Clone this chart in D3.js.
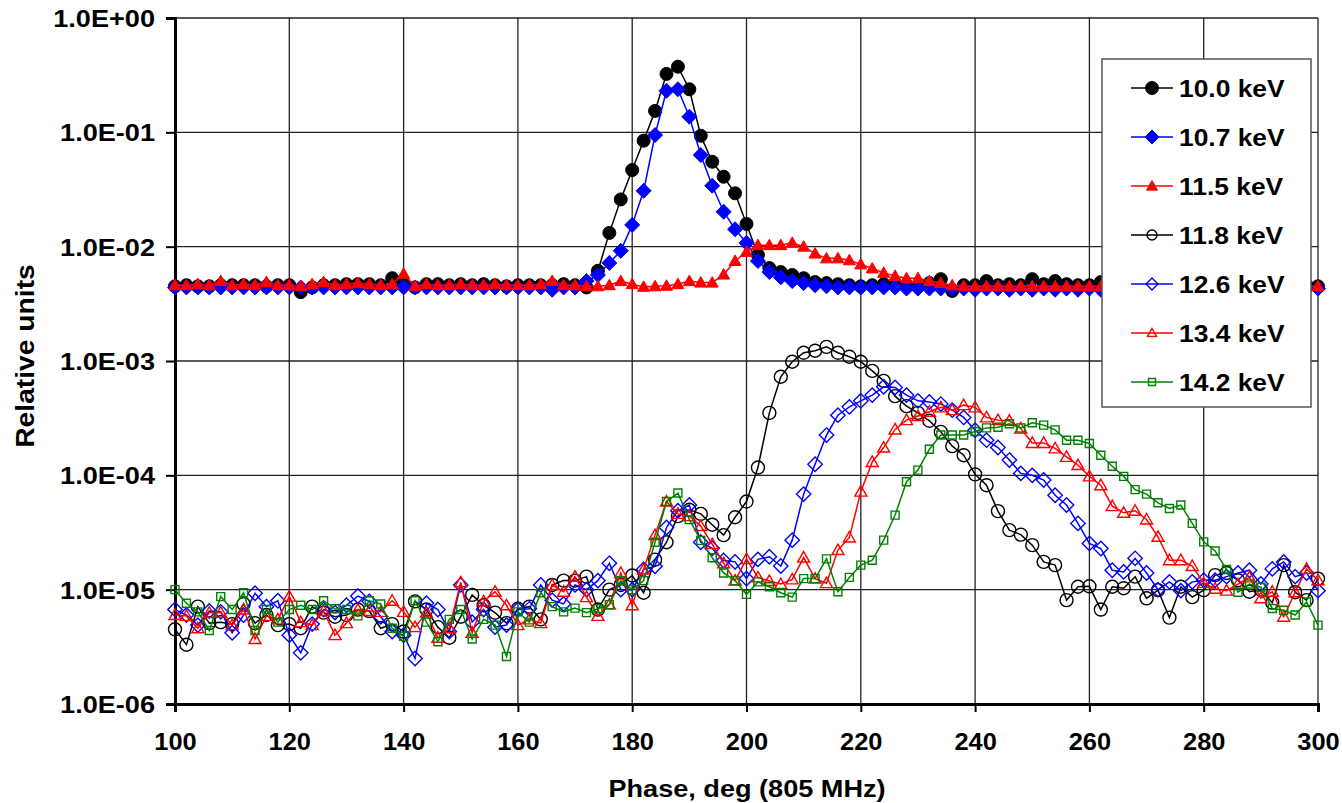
<!DOCTYPE html>
<html>
<head>
<meta charset="utf-8">
<script src="https://cdn.jsdelivr.net/npm/d3@7/dist/d3.min.js"></script>
<style>
  html, body { margin: 0; padding: 0; background: #fff; }
  svg text { font-family: "Liberation Sans", Arial, sans-serif; font-weight: bold; fill: #000; }
</style>
</head>
<body>
<svg id="chart" width="1342" height="803"></svg>
<script>
// Phase axis: one sample every 2 degrees, 100..300
const phase = d3.range(100, 301, 2);

const xTicks = [100, 120, 140, 160, 180, 200, 220, 240, 260, 280, 300];
const yTicks = [1e-6, 1e-5, 1e-4, 1e-3, 1e-2, 1e-1, 1];

// 10.0 keV
const e100 = [
  4.5e-3, 4.6e-3, 4.5e-3, 4.5e-3, 4.6e-3, 4.6e-3, 4.6e-3, 4.6e-3, 4.5e-3, 4.6e-3,
  4.6e-3, 4.0e-3, 4.4e-3, 4.6e-3, 4.6e-3, 4.7e-3, 4.7e-3, 4.7e-3, 4.6e-3, 5.3e-3,
  4.7e-3, 4.4e-3, 4.7e-3, 4.7e-3, 4.6e-3, 4.7e-3, 4.6e-3, 4.7e-3, 4.6e-3, 4.5e-3,
  4.6e-3, 4.6e-3, 4.6e-3, 4.6e-3, 4.7e-3, 4.6e-3, 4.4e-3, 6.15e-3, 1.32e-2, 2.59e-2,
  4.68e-2, 8.45e-2, 0.154, 0.324, 0.375, 0.238, 0.0934, 0.0553, 0.0409, 0.0293,
  0.0158, 8.45e-3, 6.5e-3, 6.0e-3, 5.65e-3, 5.3e-3, 4.9e-3, 4.8e-3, 4.7e-3, 4.6e-3,
  4.5e-3, 4.6e-3, 4.7e-3, 4.6e-3, 4.6e-3, 4.6e-3, 4.8e-3, 5.2e-3, 4.1e-3, 4.6e-3,
  4.6e-3, 5.0e-3, 4.6e-3, 4.7e-3, 4.6e-3, 5.2e-3, 4.7e-3, 5.0e-3, 4.7e-3, 4.6e-3,
  4.6e-3, 4.9e-3, 4.6e-3, 4.7e-3, 4.6e-3, 4.6e-3, 4.6e-3, 4.6e-3, 4.6e-3, 4.6e-3,
  4.6e-3, 4.6e-3, 4.6e-3, 4.6e-3, 4.6e-3, 4.6e-3, 4.6e-3, 4.6e-3, 4.6e-3, 4.6e-3,
  4.5e-3
];

// 10.7 keV
const e107 = [
  4.4e-3, 4.4e-3, 4.4e-3, 4.4e-3, 4.4e-3, 4.4e-3, 4.4e-3, 4.4e-3, 4.4e-3, 4.4e-3,
  4.4e-3, 4.4e-3, 4.4e-3, 4.4e-3, 4.4e-3, 4.4e-3, 4.4e-3, 4.4e-3, 4.4e-3, 4.4e-3,
  4.4e-3, 4.4e-3, 4.4e-3, 4.4e-3, 4.4e-3, 4.4e-3, 4.4e-3, 4.4e-3, 4.4e-3, 4.4e-3,
  4.4e-3, 4.4e-3, 4.4e-3, 4.2e-3, 4.4e-3, 4.4e-3, 5.0e-3, 5.65e-3, 7.2e-3, 9.2e-3,
  0.0155, 0.0308, 0.0947, 0.231, 0.238, 0.137, 0.0633, 0.0341, 0.0202, 0.0142,
  0.0108, 7.5e-3, 6.0e-3, 5.4e-3, 5.0e-3, 4.8e-3, 4.6e-3, 4.5e-3, 4.4e-3, 4.4e-3,
  4.4e-3, 4.4e-3, 4.4e-3, 4.4e-3, 4.3e-3, 4.3e-3, 4.3e-3, 4.3e-3, 4.3e-3, 4.3e-3,
  4.2e-3, 4.3e-3, 4.3e-3, 4.2e-3, 4.3e-3, 4.2e-3, 4.3e-3, 4.2e-3, 4.3e-3, 4.2e-3,
  4.3e-3, 4.2e-3, 4.3e-3, 4.2e-3, 4.3e-3, 4.2e-3, 4.3e-3, 4.3e-3, 4.3e-3, 4.3e-3,
  4.3e-3, 4.3e-3, 4.3e-3, 4.3e-3, 4.3e-3, 4.3e-3, 4.3e-3, 4.3e-3, 4.3e-3, 4.3e-3,
  4.3e-3
];

// 11.5 keV
const e115 = [
  4.6e-3, 4.6e-3, 4.7e-3, 4.6e-3, 5.0e-3, 4.6e-3, 4.7e-3, 4.6e-3, 4.9e-3, 4.6e-3,
  4.6e-3, 4.5e-3, 4.7e-3, 4.9e-3, 4.6e-3, 4.7e-3, 4.8e-3, 4.7e-3, 4.6e-3, 4.7e-3,
  5.8e-3, 4.5e-3, 4.7e-3, 4.6e-3, 4.6e-3, 4.7e-3, 4.6e-3, 4.6e-3, 4.7e-3, 4.6e-3,
  4.6e-3, 4.6e-3, 4.7e-3, 5.0e-3, 4.6e-3, 4.6e-3, 4.5e-3, 4.5e-3, 4.6e-3, 5.0e-3,
  4.7e-3, 4.45e-3, 4.5e-3, 4.55e-3, 4.7e-3, 5.0e-3, 4.85e-3, 4.85e-3, 5.7e-3, 7.5e-3,
  9.0e-3, 0.0103, 0.0103, 0.0103, 0.0108, 0.0100, 8.7e-3, 7.9e-3, 7.9e-3, 7.6e-3,
  7.0e-3, 6.45e-3, 5.9e-3, 5.55e-3, 5.3e-3, 5.3e-3, 5.0e-3, 4.8e-3, 4.6e-3, 4.5e-3,
  4.5e-3, 4.5e-3, 4.5e-3, 4.5e-3, 4.5e-3, 4.5e-3, 4.5e-3, 4.5e-3, 4.5e-3, 4.5e-3,
  4.5e-3, 4.5e-3, 4.5e-3, 4.5e-3, 4.5e-3, 4.5e-3, 4.5e-3, 4.5e-3, 4.5e-3, 4.5e-3,
  4.5e-3, 4.5e-3, 4.5e-3, 4.5e-3, 4.5e-3, 4.5e-3, 4.5e-3, 4.5e-3, 4.5e-3, 4.5e-3,
  4.5e-3
];

// 11.8 keV
const e118 = [
  4.5e-6, 3.3e-6, 7.1e-6, 5.1e-6, 5.2e-6, 5.0e-6, 7.5e-6, 5.1e-6, 6.0e-6, 4.9e-6,
  5.0e-6, 4.6e-6, 7.1e-6, 6.3e-6, 5.8e-6, 6.0e-6, 6.7e-6, 6.5e-6, 4.6e-6, 5.0e-6,
  4.3e-6, 7.9e-6, 6.7e-6, 4.7e-6, 3.8e-6, 5.8e-6, 9.0e-6, 7.3e-6, 6.3e-6, 5.1e-6,
  6.8e-6, 7.1e-6, 5.5e-6, 1.1e-5, 1.2e-5, 1.2e-5, 1.3e-5, 6.7e-6, 1.0e-5, 1.1e-5,
  1.33e-5, 9.4e-6, 1.83e-5, 2.6e-5, 4.4e-5, 5.0e-5, 4.6e-5, 3.7e-5, 3.0e-5, 4.3e-5,
  5.9e-5, 1.17e-4, 3.52e-4, 7.28e-4, 9.85e-4, 1.18e-3, 1.23e-3, 1.33e-3, 1.18e-3, 1.09e-3,
  9.85e-4, 8.2e-4, 6.7e-4, 4.93e-4, 4.03e-4, 3.52e-4, 3.0e-4, 2.4e-4, 1.8e-4, 1.5e-4,
  1.02e-4, 8.2e-5, 4.86e-5, 3.32e-5, 3.03e-5, 2.45e-5, 1.75e-5, 1.64e-5, 8.1e-6, 1.06e-5,
  1.07e-5, 6.7e-6, 1.06e-5, 1.03e-5, 1.3e-5, 8.4e-6, 9.9e-6, 5.7e-6, 1.06e-5, 8.6e-6,
  9.9e-6, 1.34e-5, 1.4e-5, 1.21e-5, 9.6e-6, 1.0e-5, 7.7e-6, 1.64e-5, 9.5e-6, 8.1e-6,
  1.25e-5
];

// 12.6 keV
const e126 = [
  6.7e-6, 6.0e-6, 4.9e-6, 6.5e-6, 6.4e-6, 4.2e-6, 6.0e-6, 9.3e-6, 7.1e-6, 8.0e-6,
  4.0e-6, 2.8e-6, 5.0e-6, 6.7e-6, 6.3e-6, 7.3e-6, 8.8e-6, 7.9e-6, 5.8e-6, 4.3e-6,
  4.0e-6, 2.5e-6, 7.6e-6, 6.7e-6, 4.3e-6, 1.1e-5, 5.2e-6, 6.7e-6, 4.7e-6, 4.9e-6,
  6.7e-6, 6.8e-6, 1.1e-5, 8.1e-6, 7.5e-6, 1.1e-5, 1.0e-5, 1.2e-5, 1.7e-5, 1.0e-5,
  1.0e-5, 1.5e-5, 1.6e-5, 3.5e-5, 4.9e-5, 5.5e-5, 2.6e-5, 2.3e-5, 1.8e-5, 1.75e-5,
  1.25e-5, 1.84e-5, 1.94e-5, 1.61e-5, 2.71e-5, 6.85e-5, 1.25e-4, 2.25e-4, 3.36e-4, 3.97e-4,
  4.48e-4, 5.03e-4, 5.95e-4, 5.87e-4, 5.03e-4, 4.48e-4, 4.38e-4, 4.2e-4, 3.72e-4, 3.21e-4,
  2.48e-4, 2.03e-4, 1.75e-4, 1.36e-4, 1.04e-4, 1.0e-4, 9.1e-5, 6.7e-5, 5.5e-5, 3.8e-5,
  2.54e-5, 2.29e-5, 1.48e-5, 1.43e-5, 1.88e-5, 1.4e-5, 1.0e-5, 1.17e-5, 9.8e-6, 1.17e-5,
  1.21e-5, 1.21e-5, 1.3e-5, 1.4e-5, 1.48e-5, 1.12e-5, 1.52e-5, 1.75e-5, 1.3e-5, 1.4e-5,
  9.8e-6
];

// 13.4 keV
const e134 = [
  6.0e-6, 5.9e-6, 4.6e-6, 6.3e-6, 6.3e-6, 4.9e-6, 6.7e-6, 3.7e-6, 5.9e-6, 5.5e-6,
  8.7e-6, 5.2e-6, 4.9e-6, 6.5e-6, 4.0e-6, 5.1e-6, 6.7e-6, 6.5e-6, 6.4e-6, 8.0e-6,
  6.4e-6, 4.7e-6, 6.3e-6, 3.8e-6, 4.6e-6, 1.16e-5, 4.2e-6, 7.9e-6, 9.6e-6, 7.3e-6,
  4.9e-6, 5.5e-6, 5.1e-6, 1.1e-5, 9.6e-6, 1.3e-5, 8.6e-6, 5.9e-6, 7.4e-6, 1.4e-5,
  7.3e-6, 1.5e-5, 3.0e-5, 5.9e-5, 4.6e-5, 4.4e-5, 3.6e-5, 2.5e-5, 1.7e-5, 1.2e-5,
  1.85e-5, 1.28e-5, 1.19e-5, 1.12e-5, 1.23e-5, 1.91e-5, 1.25e-5, 1.14e-5, 2.22e-5, 2.86e-5,
  7.2e-5, 1.31e-4, 1.75e-4, 2.52e-4, 3.04e-4, 3.3e-4, 3.6e-4, 3.93e-4, 3.72e-4, 4.11e-4,
  3.93e-4, 3.21e-4, 3.04e-4, 3.0e-4, 2.57e-4, 1.92e-4, 1.92e-4, 1.72e-4, 1.45e-4, 1.23e-4,
  9.8e-5, 8.2e-5, 5.38e-5, 4.7e-5, 4.9e-5, 4.11e-5, 2.9e-5, 1.81e-5, 1.81e-5, 1.61e-5,
  1.14e-5, 1.02e-5, 9.8e-6, 1.12e-5, 1.28e-5, 8.4e-6, 9.6e-6, 5.8e-6, 9.5e-6, 1.52e-5,
  1.21e-5
];

// 14.2 keV
const e142 = [
  1.0e-5, 7.6e-6, 6.4e-6, 4.4e-6, 8.7e-6, 6.7e-6, 9.4e-6, 4.4e-6, 6.7e-6, 5.2e-6,
  6.7e-6, 7.3e-6, 6.7e-6, 8.0e-6, 6.8e-6, 6.7e-6, 5.9e-6, 8.0e-6, 7.5e-6, 4.6e-6,
  3.9e-6, 8.0e-6, 5.2e-6, 3.5e-6, 5.5e-6, 6.7e-6, 3.7e-6, 5.5e-6, 4.9e-6, 2.6e-6,
  6.4e-6, 5.2e-6, 9.4e-6, 7.1e-6, 6.4e-6, 6.9e-6, 6.3e-6, 6.8e-6, 7.4e-6, 1.2e-5,
  1.0e-5, 1.2e-5, 2.6e-5, 5.9e-5, 7.0e-5, 4.1e-5, 2.7e-5, 1.9e-5, 1.4e-5, 1.2e-5,
  9.1e-6, 1.17e-5, 1.06e-5, 9.4e-6, 8.6e-6, 1.25e-5, 1.25e-5, 1.86e-5, 9.6e-6, 1.28e-5,
  1.64e-5, 1.81e-5, 2.71e-5, 4.49e-5, 8.8e-5, 1.11e-4, 1.69e-4, 2.25e-4, 2.25e-4, 2.25e-4,
  2.42e-4, 2.6e-4, 2.63e-4, 2.83e-4, 2.6e-4, 2.88e-4, 2.75e-4, 2.5e-4, 2.03e-4, 2.03e-4,
  1.9e-4, 1.5e-4, 1.2e-4, 9.8e-5, 7.5e-5, 6.85e-5, 5.75e-5, 5.13e-5, 5.5e-5, 3.8e-5,
  2.62e-5, 2.18e-5, 1.5e-5, 9.5e-6, 1.12e-5, 1.05e-5, 6.85e-6, 6.6e-6, 6.0e-6, 7.8e-6,
  4.9e-6
];

const seriesNames = ["10.0 keV", "10.7 keV", "11.5 keV", "11.8 keV", "12.6 keV", "13.4 keV", "14.2 keV"];
const seriesValues = [e100, e107, e115, e118, e126, e134, e142];

// Drawing style per series
const styles = [
  { color: "#000000", shape: "circle",   filled: true,  size: 6.5, legendSize: 6.5 },
  { color: "#0000ff", shape: "diamond",  filled: true,  size: 7.5, legendSize: 7 },
  { color: "#ff0000", shape: "triangle", filled: true,  size: 6,   legendSize: 5.5 },
  { color: "#000000", shape: "circle",   filled: false, size: 6.5, legendSize: 5 },
  { color: "#0000ff", shape: "diamond",  filled: false, size: 7.2, legendSize: 6 },
  { color: "#ff0000", shape: "triangle", filled: false, size: 6,   legendSize: 4.5 },
  { color: "#008000", shape: "square",   filled: false, size: 4,   legendSize: 3.5 }
];

const svg = d3.select("#chart");
const plot = { left: 175, top: 18, right: 1318, bottom: 704 };
const FONT = '"Liberation Sans", Arial, sans-serif';
const WIDEN = 1.13;   // the chart's lettering is set slightly expanded

const x = d3.scaleLinear().domain([100, 300]).range([plot.left, plot.right]);
const y = d3.scaleLog().domain([1e-6, 1]).range([plot.bottom, plot.top]);

// Grid
const grid = svg.append("g").attr("stroke", "#222").attr("stroke-width", 1.3);
grid.selectAll("line.h").data(yTicks).join("line")
  .attr("x1", plot.left).attr("x2", plot.right)
  .attr("y1", d => y(d)).attr("y2", d => y(d));
grid.selectAll("line.v").data(xTicks).join("line")
  .attr("y1", plot.top).attr("y2", plot.bottom)
  .attr("x1", d => x(d)).attr("x2", d => x(d));

// Axes
const fmtExp = v => {
  const e = Math.round(Math.log10(v));
  return "1.0E" + (e >= 0 ? "+" : "-") + String(Math.abs(e)).padStart(2, "0");
};

const yAxis = svg.append("g")
  .attr("transform", `translate(${plot.left},0)`)
  .call(d3.axisLeft(y).tickValues(yTicks).tickFormat(fmtExp).tickSize(9));
const xAxis = svg.append("g")
  .attr("transform", `translate(0,${plot.bottom})`)
  .call(d3.axisBottom(x).tickValues(xTicks).tickFormat(d3.format("d")).tickSize(8));

[yAxis, xAxis].forEach(g => {
  g.select(".domain").attr("stroke", "#000").attr("stroke-width", 3);
  g.selectAll(".tick line").attr("stroke", "#000").attr("stroke-width", 2);
  g.selectAll(".tick text").attr("font-size", 24)
    .style("font-family", FONT).style("font-weight", "bold");
});
yAxis.selectAll(".tick text")
  .attr("x", 0).attr("dy", "0.35em")
  .attr("transform", `translate(-20,0) scale(${WIDEN},1)`);
xAxis.selectAll(".tick text")
  .attr("y", 0).attr("dy", "0.71em")
  .attr("transform", `translate(0,29) scale(1.06,1)`);

// Axis titles
svg.append("text")
  .attr("transform", `translate(747,797) scale(${WIDEN},1)`)
  .attr("text-anchor", "middle").attr("font-size", 24)
  .text("Phase, deg (805 MHz)");
svg.append("text")
  .attr("transform", `translate(34,356) rotate(-90) scale(${WIDEN},1)`)
  .attr("text-anchor", "middle").attr("font-size", 25)
  .text("Relative units");

// Marker path generator
function markerPath(shape, s) {
  switch (shape) {
    case "diamond":  return `M0,${-s}L${s},0L0,${s}L${-s},0Z`;
    case "triangle": return `M0,${-s}L${s},${s * 0.75}L${-s},${s * 0.75}Z`;
    case "square":   return `M${-s},${-s}H${s}V${s}H${-s}Z`;
    default:         return d3.arc()({ innerRadius: 0, outerRadius: s, startAngle: 0, endAngle: 2 * Math.PI });
  }
}

function drawMarker(sel, st, s) {
  sel.append("path")
    .attr("d", markerPath(st.shape, s))
    .attr("fill", st.filled ? st.color : "none")
    .attr("stroke", st.color)
    .attr("stroke-width", st.filled ? 1 : 1.4);
}

const line = d3.line().x(d => x(d[0])).y(d => y(d[1]));

seriesValues.forEach((vals, i) => {
  const st = styles[i];
  const pts = phase.map((p, k) => [p, vals[k]]);
  const g = svg.append("g").attr("class", "series");
  g.append("path").datum(pts)
    .attr("d", line).attr("fill", "none")
    .attr("stroke", st.color).attr("stroke-width", 1.5);
  g.selectAll("g.m").data(pts).join("g")
    .attr("transform", d => `translate(${x(d[0])},${y(d[1])})`)
    .each(function () { drawMarker(d3.select(this), st, st.size); });
});

// Legend
const legend = svg.append("g").attr("transform", "translate(1102,59)");
legend.append("rect")
  .attr("width", 209).attr("height", 348)
  .attr("fill", "#fff").attr("stroke", "#555").attr("stroke-width", 1.5);
seriesNames.forEach((name, i) => {
  const st = styles[i];
  const row = legend.append("g").attr("transform", `translate(0,${29 + i * 49})`);
  row.append("line").attr("x1", 29).attr("x2", 71)
    .attr("stroke", st.color).attr("stroke-width", 1.5);
  drawMarker(row.append("g").attr("transform", "translate(50,0)"), st, st.legendSize);
  row.append("text")
    .attr("transform", "translate(77,9) scale(1.1,1)")
    .attr("font-size", 24).text(name);
});
</script>
</body>
</html>
